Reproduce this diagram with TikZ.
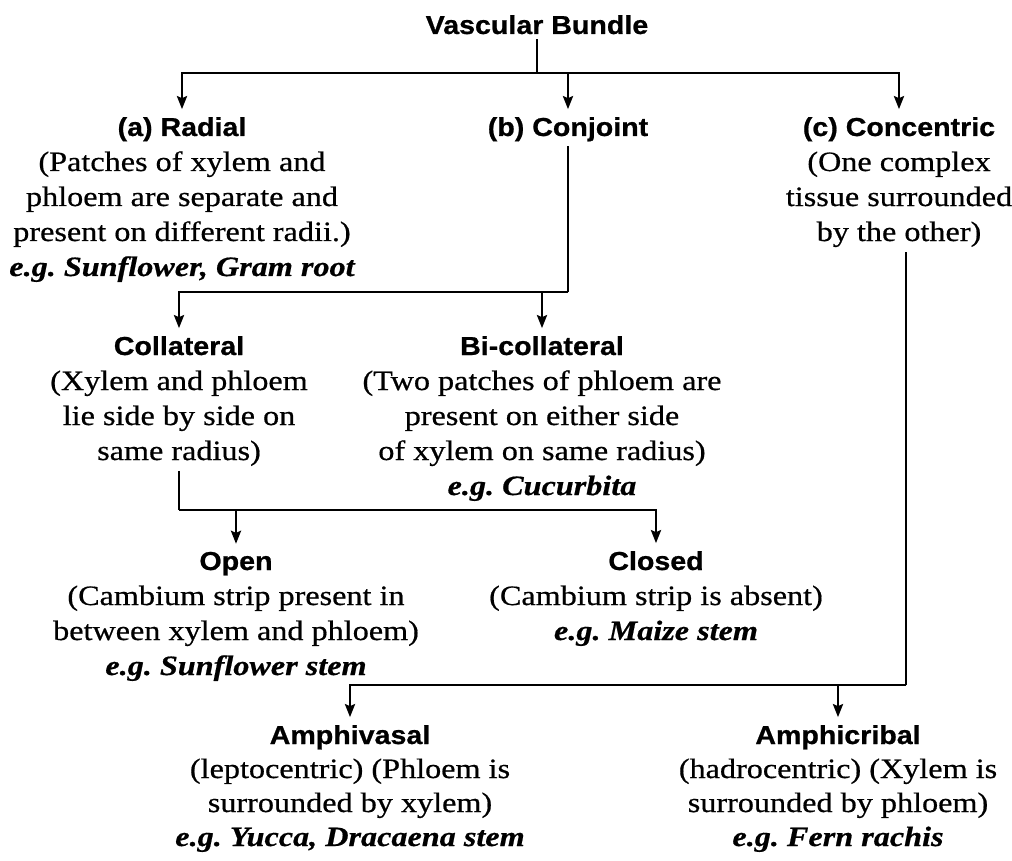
\documentclass[tikz,border=0pt]{standalone}
\usepackage{fontspec}
\setmainfont{Liberation Serif}[FakeStretch=1.15, FakeBold=0.6]
\newfontfamily\hdfont{Liberation Sans}[FakeStretch=1.1, FakeBold=0.8]
\usetikzlibrary{arrows.meta}
\newcommand{\hdtxt}[1]{{\hdfont\bfseries\fontsize{26}{35}\selectfont #1}}
\newcommand{\egtxt}[1]{{\bfseries\itshape #1}}
\tikzset{
  every node/.style={inner sep=0pt, outer sep=0pt},
  blk/.style={align=center, anchor=base, font=\fontsize{28}{35}\selectfont\frenchspacing},
  blkb/.style={blk, font=\fontsize{28}{34}\selectfont\frenchspacing},
  ln/.style={line width=2.6pt},
  arr/.style={ln, shorten >=8pt, -{Stealth[length=13pt,width=10pt,inset=2pt]}},
}
\begin{document}
\begin{tikzpicture}[x=1pt,y=-1pt]
\useasboundingbox (0,0) rectangle (1012,861);
% anchor=base is the baseline of the last line; headings: 136, 355, 570, 745
\node[blk] (vb) at (537,34) {\hdtxt{Vascular Bundle}};
\node[blk] (rad) at (182,276) {\hdtxt{(a) Radial}\\(Patches of xylem and\\phloem are separate and\\present on different radii.)\\\egtxt{e.g. Sunflower, Gram root}};
\node[blk] (con) at (568,136) {\hdtxt{(b) Conjoint}};
\node[blk] (cen) at (899,241) {\hdtxt{(c) Concentric}\\(One complex\\tissue surrounded\\by the other)};
\node[blk] (col) at (179,460) {\hdtxt{Collateral}\\(Xylem and phloem\\lie side by side on\\same radius)};
\node[blk] (bic) at (542,495) {\hdtxt{Bi-collateral}\\(Two patches of phloem are\\present on either side\\of xylem on same radius)\\\egtxt{e.g. Cucurbita}};
\node[blk] (opn) at (236,675) {\hdtxt{Open}\\(Cambium strip present in\\between xylem and phloem)\\\egtxt{e.g. Sunflower stem}};
\node[blk] (cls) at (656,640) {\hdtxt{Closed}\\(Cambium strip is absent)\\\egtxt{e.g. Maize stem}};
\node[blkb] (avs) at (350,846) {\hdtxt{Amphivasal}\\(leptocentric) (Phloem is\\surrounded by xylem)\\\egtxt{e.g. Yucca, Dracaena stem}};
\node[blkb] (acr) at (838,846) {\hdtxt{Amphicribal}\\(hadrocentric) (Xylem is\\surrounded by phloem)\\\egtxt{e.g. Fern rachis}};
% connectors
\coordinate (j0) at (537,73);
\draw[ln, shorten <=5pt] (vb.south) -- (j0);
\draw[arr] (j0) -| (rad.north);
\draw[arr] (j0) -| (con.north);
\draw[arr] (j0) -| (cen.north);
\coordinate (j1) at (568,292);
\draw[ln, shorten <=5pt] (con.south) -- (j1);
\draw[arr] (j1) -| (col.north);
\draw[arr] (j1) -| (bic.north);
\coordinate (j2) at (179,510);
\draw[ln, shorten <=5pt] (col.south) -- (j2);
\draw[arr] (j2) -| (opn.north);
\draw[arr] (j2) -| (cls.north);
\coordinate (j3) at (906,685);
\draw[ln, shorten <=5pt] (cen.south -| j3) -- (j3);
\draw[arr] (j3) -| (avs.north);
\draw[arr] (j3) -| (acr.north);
\end{tikzpicture}
\end{document}
